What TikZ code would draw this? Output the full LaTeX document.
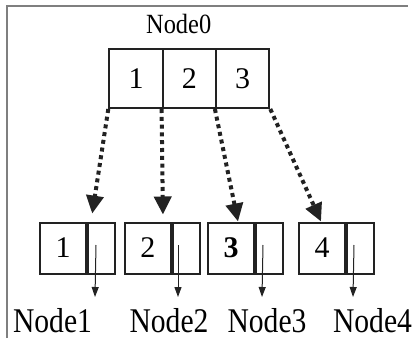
\documentclass[tikz,border=0pt]{standalone}
\usepackage{graphicx}
\usepackage{fontspec}
\setmainfont{Liberation Serif}
\usetikzlibrary{arrows.meta}
\definecolor{framegray}{HTML}{7F7F7F}
\definecolor{ink}{HTML}{222222}
\tikzset{
  topcell/.style={draw=ink, line width=1pt, minimum width=26.7pt, minimum height=29.5pt,
    inner sep=0pt, font=\fontsize{15}{15}\selectfont},
  keycell/.style={draw=ink, line width=1pt, minimum width=23pt, minimum height=25.5pt,
    inner sep=0pt, font=\fontsize{15}{15}\selectfont},
  ptrcell/.style={draw=ink, line width=1pt, minimum width=13.5pt, minimum height=25.5pt,
    inner sep=0pt},
  title/.style={anchor=base, inner sep=0pt, font=\fontsize{12.2}{12.2}\selectfont},
  caption/.style={anchor=base, inner sep=0pt, font=\fontsize{14.8}{14.8}\selectfont},
  childlink/.style={ink, line width=2pt, dash pattern=on 2pt off 1.9pt,
    -{Triangle[length=9pt,width=8.5pt]}},
  nextptr/.style={ink, line width=0.5pt, -{Triangle[length=5pt,width=3.5pt]}},
  framing/.style={framegray, line width=1pt}
}
\begin{document}
\begin{tikzpicture}[x=0.5pt,y=-0.5pt]
\useasboundingbox (0,0) rectangle (413,338);

% frame along the left and top edges
\draw[framing] (6.5,338) -- (6.5,5.5) -- (408,5.5);

% root node with three keys
\node[title] (t0) at (178.7,33) {\scalebox{1}[1.14]{Node0}};
\node[topcell] (c1) at (136,78.5) {1};
\node[topcell] (c2) at (189.3,78.5) {2};
\node[topcell] (c3) at (242.6,78.5) {3};

% child nodes: key cell and pointer cell
\node[keycell] (k1) at (63,248) {1};
\node[ptrcell, anchor=west] (p1) at (k1.east) {};
\node[keycell] (k2) at (148,248) {2};
\node[ptrcell, anchor=west] (p2) at (k2.east) {};
\node[keycell] (k3) at (231,248) {\bfseries 3};
\node[ptrcell, anchor=west] (p3) at (k3.east) {};
\node[keycell] (k4) at (322,248) {4};
\node[ptrcell, anchor=west] (p4) at (k4.east) {};

% captions
\node[caption] (n1) at (52.5,332.5) {\scalebox{1}[1.17]{Node1}};
\node[caption] (n2) at (169,332.5) {\scalebox{1}[1.17]{Node2}};
\node[caption] (n3) at (267,332.5) {\scalebox{1}[1.17]{Node3}};
\node[caption] (n4) at (372.5,332.5) {\scalebox{1}[1.17]{Node4}};

% child links from the root
\draw[childlink, shorten >=4pt] (c1.south west) -- ([xshift=2pt]k1.north east);
\draw[childlink, shorten >=3.5pt] (c2.south west) -- ([xshift=-4.5pt]k2.north east);
\draw[childlink] (c3.south west) -- ([xshift=3.5pt]k3.north);
\draw[childlink] (c3.south east) -- ([xshift=-0.5pt]k4.north);

% next pointers
\coordinate (e1) at (95,297);
\coordinate (e2) at (178,297);
\coordinate (e3) at (262,297);
\coordinate (e4) at (353,297);
\draw[nextptr] ([xshift=4.5pt,yshift=1.5pt]k1.east) -- (e1);
\draw[nextptr] ([xshift=3pt,yshift=1.5pt]k2.east) -- (e2);
\draw[nextptr] ([xshift=4pt,yshift=1.5pt]k3.east) -- (e3);
\draw[nextptr] ([xshift=4pt,yshift=1.5pt]k4.east) -- (e4);
\end{tikzpicture}
\end{document}
